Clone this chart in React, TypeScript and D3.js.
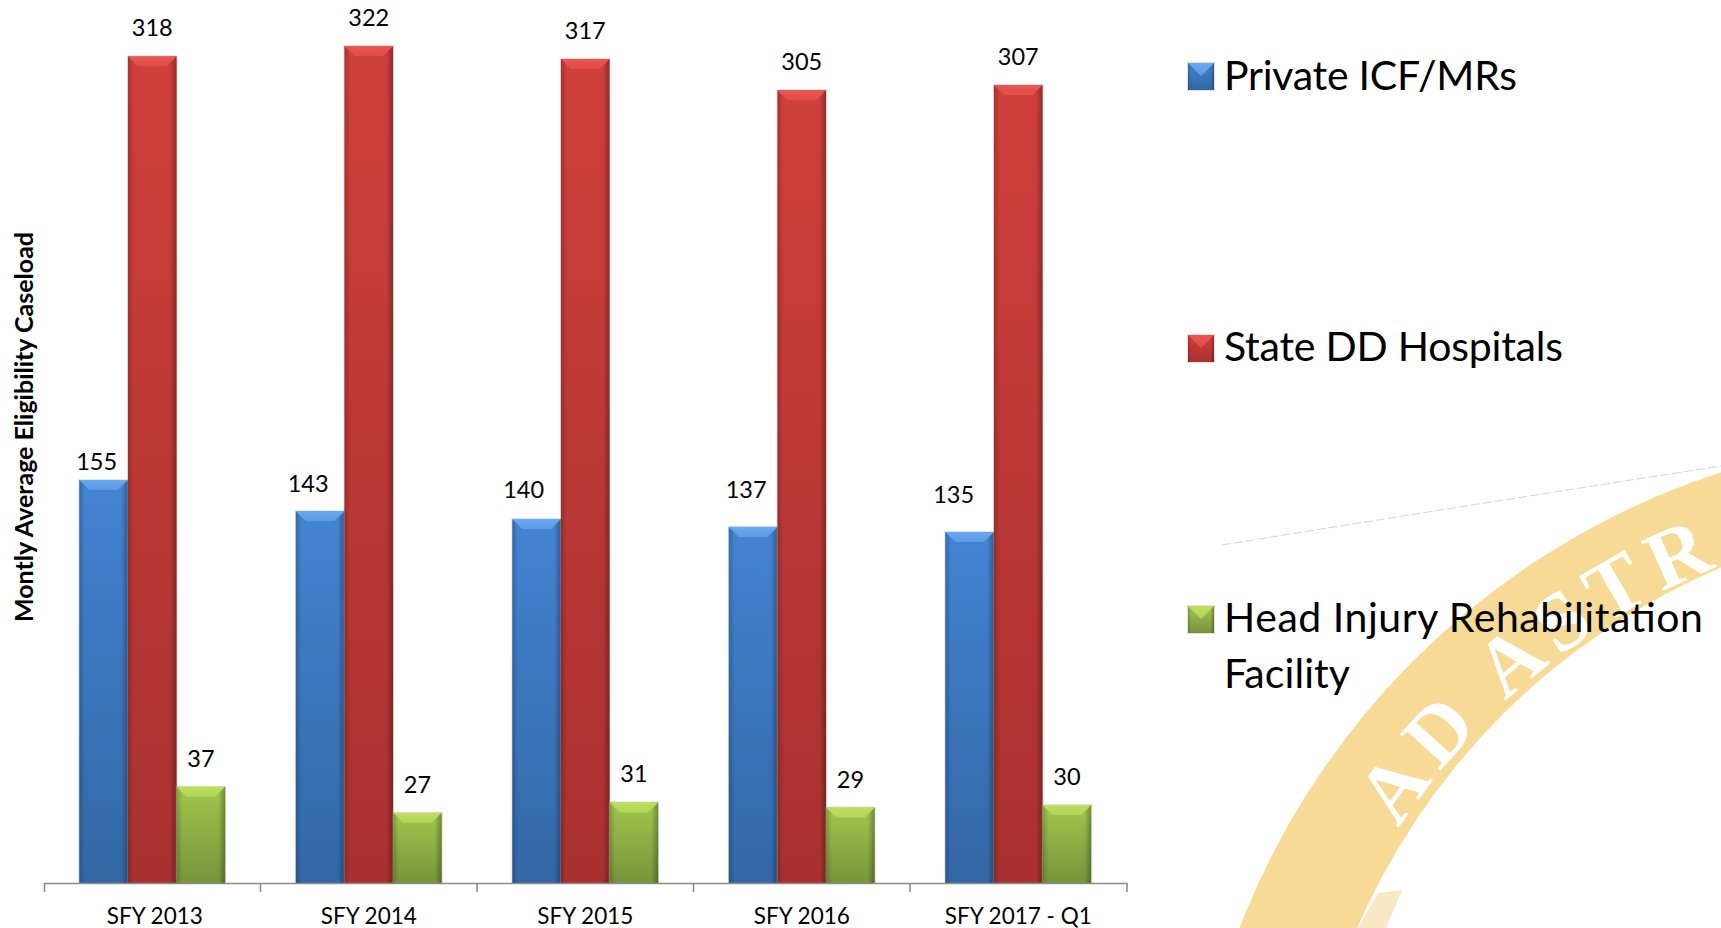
import { useEffect, useRef } from "react"
import * as d3 from "d3"

const categories = ["SFY 2013", "SFY 2014", "SFY 2015", "SFY 2016", "SFY 2017 - Q1"]
const seriesNames = ["Private ICF/MRs", "State DD Hospitals", "Head Injury Rehabilitation Facility"]
const privateIcf = [155, 143, 140, 137, 135]
const stateDd = [318, 322, 317, 305, 307]
const headInjury = [37, 27, 31, 29, 30]
const seriesValues = [privateIcf, stateDd, headInjury]

// hand nudges for the blue data labels, the source chart has them moved around
const blueLabelDx = [-7, -12, -13, -7, -16]
const blueLabelDy = [10, 0.5, -1, -9, -9.5]

const palette = [
  { top: "#6aaaf0", upper: "#4384d2", lower: "#3367a6" },
  { top: "#ec5552", upper: "#cf3f3b", lower: "#a83130" },
  { top: "#bde060", upper: "#a2c64d", lower: "#76953a" },
]

const font = "Lato, 'Noto Sans', sans-serif"
const axisColor = "#8c8c8c"

function Bevel({ x, y, w, h, id, b = 10, inset = 10 }: { x: number; y: number; w: number; h: number; id: number; b?: number; inset?: number }) {
  return (
    <g>
      <rect x={x - 1} y={y - 1} width={w + 2} height={h + 2} fill="#a0a0a0" opacity={0.3} />
      <rect x={x} y={y} width={w} height={h} fill={`url(#body${id})`} />
      <rect x={x} y={y} width={w} height={h} fill="url(#sides)" />
      <path d={`M${x},${y}L${x + w},${y}L${x + w - inset},${y + b}L${x + inset},${y + b}Z`} fill={`url(#cap${id})`} />
    </g>
  )
}

export default function App() {
  const axisRef = useRef<SVGGElement | null>(null)

  const x0 = d3.scaleBand<string>().domain(categories).range([44, 1126.5]).paddingInner(0.326).paddingOuter(0.163)
  const x1 = d3.scaleBand<string>().domain(seriesNames).range([0, x0.bandwidth()])
  const y = d3.scaleLinear().domain([0, 322]).range([883, 46])

  useEffect(() => {
    if (!axisRef.current) return
    const g = d3.select(axisRef.current)
    g.selectAll("*").remove()
    g.call(d3.axisBottom(x0).tickSizeInner(0).tickSizeOuter(9).tickPadding(25) as any)
    g.select(".domain").attr("stroke", axisColor).attr("stroke-width", 1.6)
    g.selectAll(".tick text").attr("font-size", 22.5).attr("font-family", font).attr("fill", "#000")
    g.selectAll(".tick text").filter((d) => d === categories[0]).attr("dx", 2.5)
    // ticks sit between the groups, not under them
    categories.slice(1).forEach((d) => {
      const tx = (x0(d) as number) - (x0.step() - x0.bandwidth()) / 2
      g.append("line").attr("x1", tx).attr("x2", tx).attr("y1", 0).attr("y2", 9).attr("stroke", axisColor).attr("stroke-width", 1.6)
    })
  }, [])

  return (
    <svg width={1721} height={928} style={{ position: "absolute", left: 0, top: 0, background: "#fff", fontFamily: font }}>
      <defs>
        {palette.map((c, i) => (
          <linearGradient key={i} id={`body${i}`} x1="0" y1="0" x2="0" y2="1">
            <stop offset="0" stopColor={c.upper} />
            <stop offset="1" stopColor={c.lower} />
          </linearGradient>
        ))}
        {palette.map((c, i) => (
          <linearGradient key={i} id={`cap${i}`} x1="0" y1="0" x2="0" y2="1">
            <stop offset="0" stopColor={c.top} />
            <stop offset="1" stopColor={d3.interpolateRgb(c.top, c.upper)(0.45)} />
          </linearGradient>
        ))}
        <linearGradient id="sides" x1="0" y1="0" x2="1" y2="0">
          <stop offset="0" stopColor="#000" stopOpacity={0.2} />
          <stop offset="0.12" stopColor="#000" stopOpacity={0} />
          <stop offset="0.86" stopColor="#000" stopOpacity={0} />
          <stop offset="1" stopColor="#000" stopOpacity={0.3} />
        </linearGradient>
        <path id="sealPath" d="M1345,928A688,688 0 0 1 1975,517" fill="none" />
      </defs>

      {/* seal watermark behind the legend */}
      <circle cx={1959.5} cy={1206.5} r={772} fill="#f7da96" />
      <circle cx={1990} cy={1203} r={690} fill="#fff" />
      <path d="M1402,890L1378,893L1358,928L1386,928Z" fill="#f9e8c4" />
      <text fontFamily="'Liberation Serif', serif" fontWeight="bold" fontSize={83} fill="#fff" letterSpacing={10}>
        <textPath href="#sealPath" startOffset={113}>AD ASTR</textPath>
      </text>
      <path d="M1222,545Q1470,505 1721,466" stroke="#d4d4d4" strokeWidth={1} strokeDasharray="9 3" fill="none" />

      {seriesNames.map((s, si) =>
        categories.map((c, ci) => {
          const v = seriesValues[si][ci]
          const bx = (x0(c) as number) + (x1(s) as number)
          const dx = si === 0 ? blueLabelDx[ci] : 0
          const dy = si === 0 ? blueLabelDy[ci] : 0
          return (
            <g key={`${s}-${c}`}>
              <Bevel x={bx} y={y(v)} w={x1.bandwidth()} h={883 - y(v)} id={si} />
              <text x={bx + x1.bandwidth() / 2 + dx} y={y(v) - 20 + dy} textAnchor="middle" fontSize={23.5}>
                {v}
              </text>
            </g>
          )
        }),
      )}

      <g ref={axisRef} transform="translate(0,883)" />

      <text transform="translate(33,427) rotate(-90)" textAnchor="middle" fontSize={25} fontWeight="bold">
        Montly Average Eligibility Caseload
      </text>

      <g>
        <Bevel x={1188} y={63} w={26} h={27} id={0} b={13} inset={13} />
        <text x={1224} y={90} fontSize={41} textLength={293}>{seriesNames[0]}</text>
        <Bevel x={1188} y={335} w={26} h={27} id={1} b={13} inset={13} />
        <text x={1224} y={361} fontSize={41} textLength={339}>{seriesNames[1]}</text>
        <Bevel x={1188} y={606} w={26} h={27} id={2} b={13} inset={13} />
        <text x={1224} y={632} fontSize={41} textLength={479}>Head Injury Rehabilitation</text>
        <text x={1224} y={688} fontSize={41} textLength={126}>Facility</text>
      </g>
    </svg>
  )
}
